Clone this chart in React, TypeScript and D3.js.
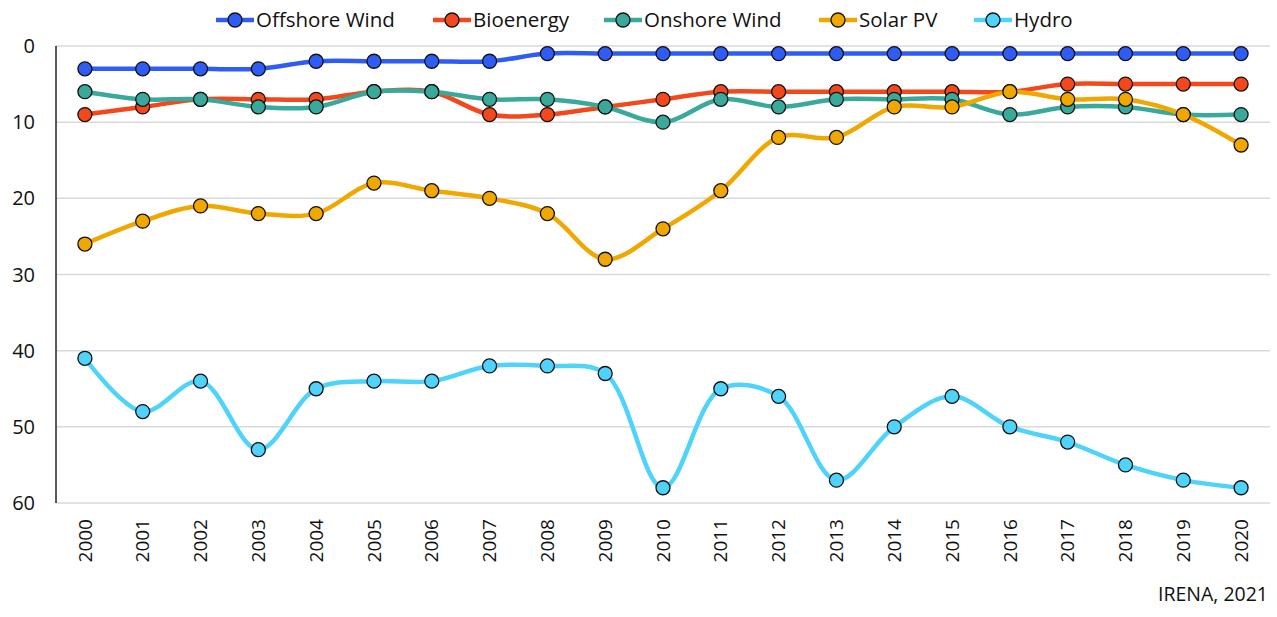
import React from "react";
import * as d3 from "d3";

const years = ["2000","2001","2002","2003","2004","2005","2006","2007","2008","2009","2010","2011","2012","2013","2014","2015","2016","2017","2018","2019","2020"];
const offshoreWind = [3,3,3,3,2,2,2,2,1,1,1,1,1,1,1,1,1,1,1,1,1];
const bioenergy = [9,8,7,7,7,6,6,9,9,8,7,6,6,6,6,6,6,5,5,5,5];
const onshoreWind = [6,7,7,8,8,6,6,7,7,8,10,7,8,7,7,7,9,8,8,9,9];
const solarPV = [26,23,21,22,22,18,19,20,22,28,24,19,12,12,8,8,6,7,7,9,13];
const hydro = [41,48,44,53,45,44,44,42,42,43,58,45,46,57,50,46,50,52,55,57,58];
const yTicks = [0,10,20,30,40,50,60];

const seriesNames = ["Offshore Wind","Bioenergy","Onshore Wind","Solar PV","Hydro"];
const seriesValues = [offshoreWind, bioenergy, onshoreWind, solarPV, hydro];
const seriesColors = ["#2f5cf5","#f2481b","#38a99a","#f0a800","#4fd3fb"];
const legendX = [216, 433, 604, 819, 974];

const W = 1277, H = 617;
const font = "'Open Sans', 'Noto Sans', sans-serif";

export default function App() {
  const x = d3.scaleBand().domain(years).range([56, 1270]);
  const y = d3.scaleLinear().domain([0, 60]).range([46, 503]);
  const cx = (i: number) => (x(years[i]) as number) + x.bandwidth() / 2;
  const line = d3.line<number>().x((_, i) => cx(i)).y((v) => y(v)).curve(d3.curveCatmullRom.alpha(0.5));

  return (
    <svg width={W} height={H} style={{ position: "absolute", left: 0, top: 0, background: "#fff" }} fontFamily={font}>
      {yTicks.map((t) => (
        <g key={t}>
          <line x1={56} x2={1270} y1={y(t)} y2={y(t)} stroke="#d9d9d9" strokeWidth={1.5} />
          <text x={35} y={y(t)} dy="0.35em" textAnchor="end" fontSize={20} fill="#111">{t}</text>
        </g>
      ))}
      <line x1={56} x2={56} y1={y(0)} y2={y(60)} stroke="#222" strokeWidth={1.5} />
      {years.map((yr, i) => (
        <text key={yr} transform={`translate(${cx(i)},${519}) rotate(-90)`} textAnchor="end" dy="0.35em" fontSize={19} fill="#111">{yr}</text>
      ))}
      {seriesValues.map((vals, s) => (
        <g key={seriesNames[s]}>
          <path d={line(vals) || ""} fill="none" stroke={seriesColors[s]} strokeWidth={4.5} />
          {vals.map((v, i) => (
            <circle key={i} cx={cx(i)} cy={y(v)} r={7} fill={seriesColors[s]} stroke="#111" strokeWidth={1.3} />
          ))}
        </g>
      ))}
      {seriesNames.map((n, s) => (
        <g key={n}>
          <line x1={legendX[s]} x2={legendX[s] + 38} y1={20} y2={20} stroke={seriesColors[s]} strokeWidth={4.5} />
          <circle cx={legendX[s] + 19} cy={20} r={7} fill={seriesColors[s]} stroke="#111" strokeWidth={1.3} />
          <text x={legendX[s] + 40} y={20} dy="0.35em" fontSize={20.5} fill="#111">{n}</text>
        </g>
      ))}
      <text x={1268} y={601} textAnchor="end" fontSize={19.5} fill="#111">IRENA, 2021</text>
    </svg>
  );
}
